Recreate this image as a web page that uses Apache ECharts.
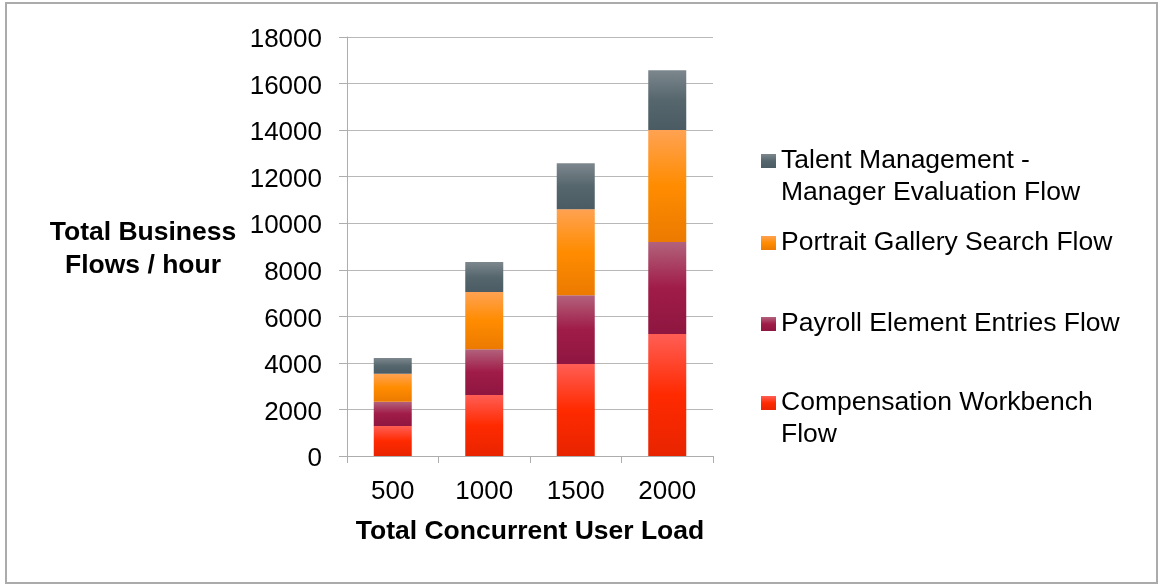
<!DOCTYPE html>
<html>
<head>
<meta charset="utf-8">
<script src="https://cdn.jsdelivr.net/npm/echarts@6/dist/echarts.min.js"></script>
<style>
html,body{margin:0;padding:0;background:#fff;}
#chart{width:1158px;height:584px;}
</style>
</head>
<body>
<div id="chart"></div>
<script>
var categories = ['500', '1000', '1500', '2000'];
var compensation = [1290, 2620, 3950, 5240];
var payroll = [1040, 1970, 2960, 3950];
var portrait = [1200, 2450, 3690, 4810];
var talent = [675, 1290, 1975, 2570];
var seriesNames = [
  'Compensation Workbench Flow',
  'Payroll Element Entries Flow',
  'Portrait Gallery Search Flow',
  'Talent Management - Manager Evaluation Flow'
];
var legendLabels = {
  'Compensation Workbench Flow': '\nCompensation Workbench\nFlow',
  'Payroll Element Entries Flow': 'Payroll Element Entries Flow',
  'Portrait Gallery Search Flow': 'Portrait Gallery Search Flow',
  'Talent Management - Manager Evaluation Flow': '\nTalent Management -\nManager Evaluation Flow'
};
var yTitle = 'Total Business\nFlows / hour';
var xTitle = 'Total Concurrent User Load';

var font = 'Liberation Sans, Arial, Helvetica, sans-serif';
function grad(stops) {
  return new echarts.graphic.LinearGradient(0, 0, 0, 1, stops.map(function (c, i) {
    return { offset: i / (stops.length - 1), color: c };
  }));
}
var colors = [
  grad(['#ff5e55', '#ff2a00', '#e82400']),
  grad(['#b2627c', '#a01c48', '#8e1640']),
  grad(['#ffa252', '#ff8c00', '#ec7a00']),
  grad(['#7c878d', '#56666d', '#4a5b63'])
];
var values = [compensation, payroll, portrait, talent];

var chart = echarts.init(document.getElementById('chart'), null, { renderer: 'canvas' });

function legendFor(name, top) {
  return {
    data: [name],
    left: 761,
    top: top,
    orient: 'vertical',
    padding: 0,
    itemWidth: 15,
    itemHeight: 14,
    itemGap: 0,
    icon: 'rect',
    selectedMode: false,
    formatter: function (n) { return legendLabels[n]; },
    textStyle: {
      fontFamily: font,
      fontSize: 26.5,
      color: '#000',
      lineHeight: 32
    }
  };
}

chart.setOption({
  animation: false,
  backgroundColor: '#fff',
  grid: { left: 347, right: 445, top: 37, bottom: 128, containLabel: false },
  legend: [
    legendFor(seriesNames[3], 113),
    legendFor(seriesNames[2], 227),
    legendFor(seriesNames[1], 308),
    legendFor(seriesNames[0], 355)
  ],
  graphic: [
    {
      type: 'rect',
      shape: { x: 6, y: 3, width: 1151, height: 580 },
      style: { fill: 'none', stroke: '#ababab', lineWidth: 2 },
      silent: true
    },
    {
      type: 'text',
      x: 143,
      y: 216,
      style: {
        text: yTitle,
        font: 'bold 26.5px ' + font,
        fill: '#000',
        align: 'center',
        verticalAlign: 'top',
        lineHeight: 33
      }
    }
  ],
  xAxis: {
    type: 'category',
    data: categories,
    boundaryGap: true,
    name: xTitle,
    nameLocation: 'middle',
    nameGap: 62,
    nameTextStyle: { fontFamily: font, fontSize: 26.5, fontWeight: 'bold', color: '#000' },
    axisLine: { show: true, lineStyle: { color: '#adadad', width: 1 } },
    axisTick: { show: true, length: 7, inside: false, alignWithLabel: false, lineStyle: { color: '#adadad' } },
    axisLabel: { fontFamily: font, fontSize: 26, color: '#000', margin: 23 },
    splitLine: { show: false }
  },
  yAxis: {
    type: 'value',
    min: 0,
    max: 18000,
    interval: 2000,
    axisLine: { show: true, lineStyle: { color: '#adadad', width: 1 } },
    axisTick: { show: true, length: 8, inside: false, lineStyle: { color: '#adadad' } },
    axisLabel: {
      fontFamily: font, fontSize: 26, color: '#000', margin: 25,
      formatter: function (v) { return '{t|' + v + '}'; },
      rich: { t: { fontFamily: font, fontSize: 26, color: '#000', padding: [6, 0, 0, 0] } }
    },
    splitLine: { show: true, lineStyle: { color: '#b8b8b8', width: 1 } }
  },
  series: seriesNames.map(function (n, i) {
    return {
      name: n,
      type: 'bar',
      stack: 'total',
      barWidth: 38,
      data: values[i],
      itemStyle: { color: colors[i] }
    };
  })
});
</script>
</body>
</html>
